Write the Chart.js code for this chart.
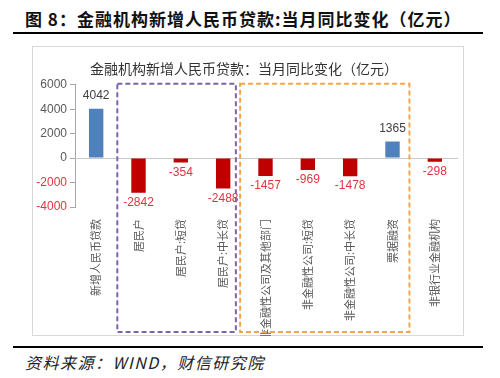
<!DOCTYPE html>
<html><head><meta charset="utf-8">
<script src="https://cdn.jsdelivr.net/npm/chart.js@4"></script>
<style>
html,body{margin:0;padding:0;background:#fff;width:500px;height:378px;overflow:hidden;position:relative;}
#hdr{position:absolute;left:25px;top:6px;font:bold 17px "Noto Sans CJK SC",sans-serif;color:#111;white-space:nowrap;letter-spacing:1px;}
.rule{position:absolute;left:13px;width:470px;height:2px;background:#000;}
#box{position:absolute;left:32px;top:46px;width:430px;height:288px;border:1px solid #d9d9d9;}
#cv{position:absolute;left:32px;top:46px;}
#src{position:absolute;left:25px;top:350px;font:italic 16px "Noto Sans CJK SC",serif;color:#222;white-space:nowrap;letter-spacing:1.5px;}
</style></head><body>
<div id="hdr">图 8：金融机构新增人民币贷款:当月同比变化（亿元）</div>
<div class="rule" style="top:32px"></div>
<div id="box"></div>
<canvas id="cv" width="432" height="290"></canvas>
<div class="rule" style="top:346px"></div>
<div id="src">资料来源：WIND，财信研究院</div>
<script>
const categories = ["新增人民币贷款","居民户","居民户:短贷","居民户:中长贷","非金融性公司及其他部门","非金融性公司:短贷","非金融性公司:中长贷","票据融资","非银行业金融机构"];
const values = [4042,-2842,-354,-2488,-1457,-969,-1478,1365,-298];
const yTicks = [-4000,-2000,0,2000,4000,6000];
const chartTitle = "金融机构新增人民币贷款：当月同比变化（亿元）";
const groups = [
  {from:0.5, to:3.3, color:"#7e63ad"},
  {from:3.4, to:7.4, color:"#f4a446"}
];

const extras = {
  id:'extras',
  beforeDatasetsDraw(chart){
    const {ctx, chartArea:a, scales:{x,y}} = chart;
    ctx.save();
    ctx.strokeStyle='#c8c8c8'; ctx.lineWidth=1;
    const y0=Math.round(y.getPixelForValue(0))+0.5;
    ctx.beginPath(); ctx.moveTo(a.left,y0); ctx.lineTo(a.right+2,y0); ctx.stroke();
    ctx.restore();
  },
  afterDatasetsDraw(chart){
    const {ctx, scales:{x,y}} = chart;
    ctx.save();
    ctx.font='12px "Liberation Sans","Noto Sans CJK SC",sans-serif';
    ctx.textAlign='center';
    const meta=chart.getDatasetMeta(0);
    meta.data.forEach((bar,i)=>{
      const v=values[i];
      if(v>=0){ctx.fillStyle='#404040'; ctx.textBaseline='bottom'; ctx.fillText(String(v),bar.x,bar.y-7);}
      else {ctx.fillStyle='#e0343f'; ctx.textBaseline='top'; ctx.fillText(String(v),bar.x,bar.y+4);}
    });
    const top=y.getPixelForValue(6000)-1;
    const bottom=chart.height-4;
    ctx.lineWidth=2; ctx.setLineDash([5,3]);
    groups.forEach(g=>{
      ctx.strokeStyle=g.color;
      const l=x.getPixelForValue(g.from), r=x.getPixelForValue(g.to);
      ctx.strokeRect(l,top,r-l,bottom-top);
    });
    ctx.restore();
  }
};

new Chart(document.getElementById('cv'),{
  type:'bar',
  data:{labels:categories,datasets:[{data:values,
    backgroundColor:values.map(v=>v>=0?'#4f81bd':'#c00000'),
    barPercentage:0.34,categoryPercentage:1}]},
  options:{
    responsive:false,animation:false,
    layout:{padding:{left:0,right:8,top:0,bottom:0}},
    plugins:{legend:{display:false},tooltip:{enabled:false},
      title:{display:true,text:chartTitle,color:'#333',
        font:{size:14,family:'"Noto Sans CJK SC",sans-serif',weight:'normal'},padding:{top:14,bottom:8}}},
    scales:{
      x:{grid:{display:false},border:{display:false},
        ticks:{maxRotation:90,minRotation:90,autoSkip:false,color:'#595959',padding:4,
          font:{size:11,family:'"Noto Sans CJK SC",sans-serif'}},
        afterFit(s){s.height=129;}},
      y:{min:-4000,max:6000,
        afterBuildTicks(s){s.ticks=yTicks.map(v=>({value:v}));},
        grid:{drawOnChartArea:false,drawTicks:true,tickLength:5,color:'#a6a6a6'},
        border:{display:true,color:'#a6a6a6'},
        ticks:{padding:3,color:c=>c.tick.value<0?'#e0343f':'#595959',
          callback:v=>String(v),
          font:{size:12,family:'"Liberation Sans",sans-serif'}},
        afterFit(s){s.width=43;}}
    }
  },
  plugins:[extras]
});
</script>
</body></html>
